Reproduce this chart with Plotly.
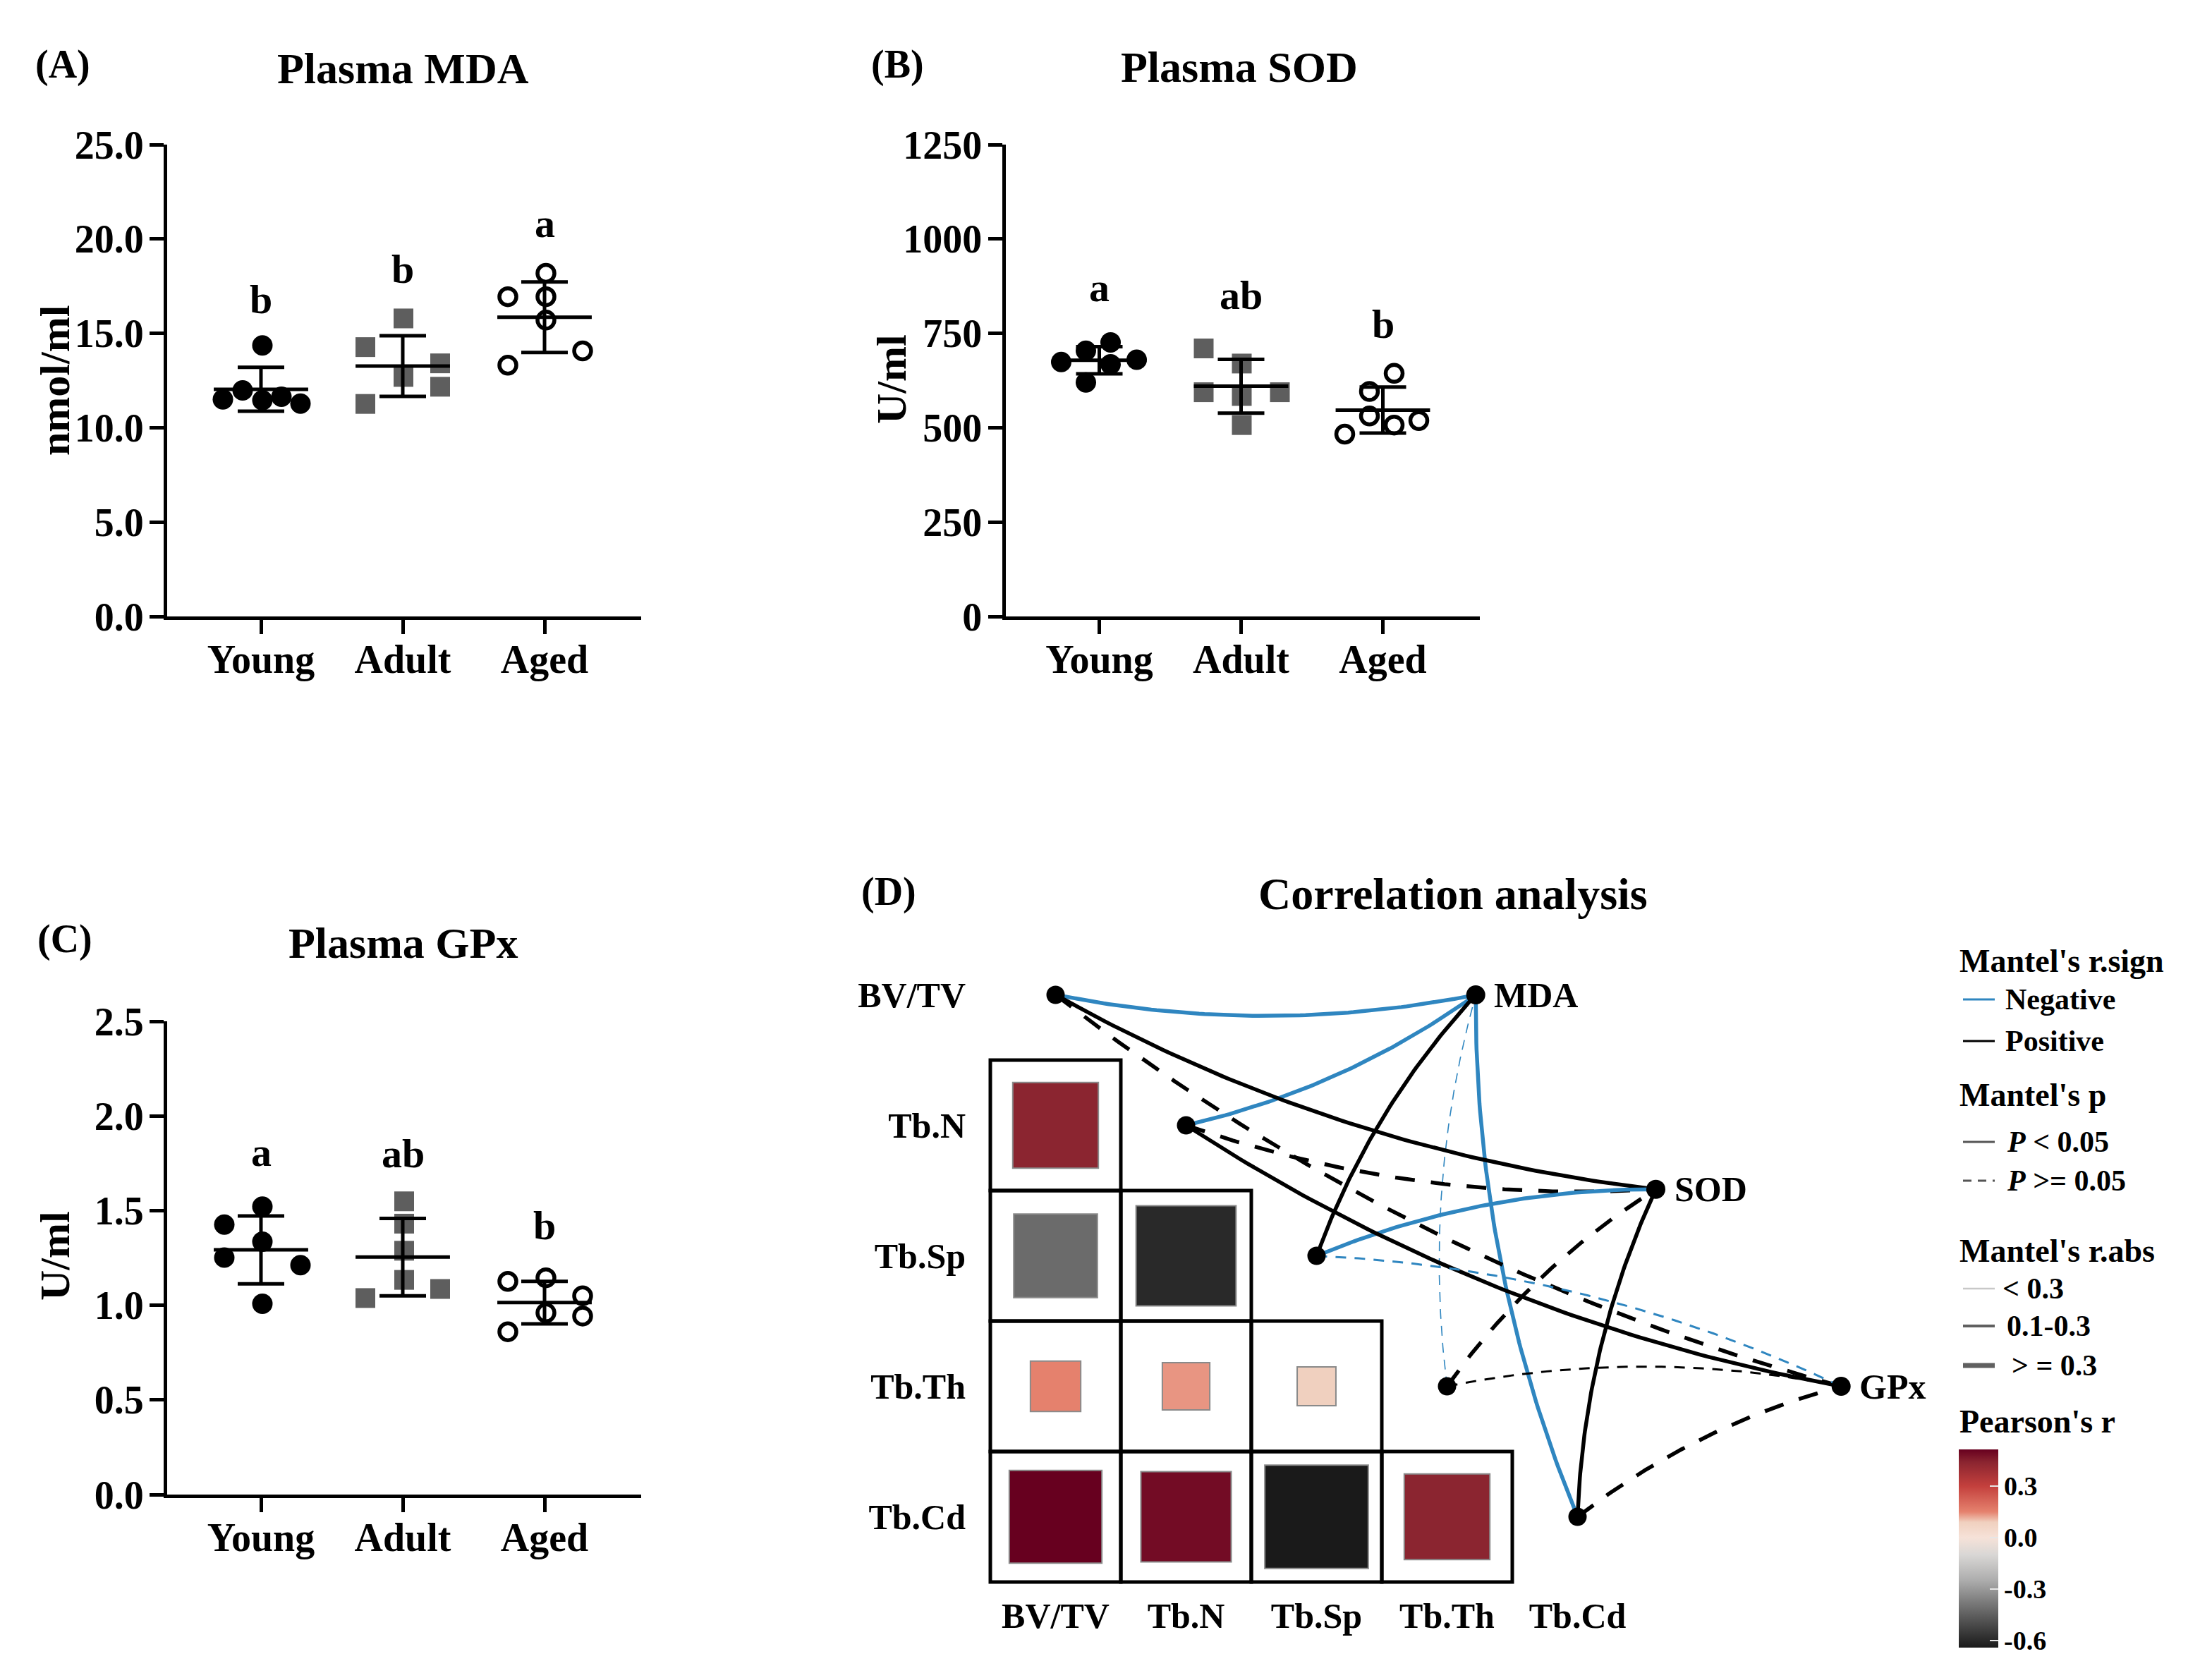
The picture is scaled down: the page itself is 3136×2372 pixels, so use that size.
import numpy as np
import plotly.graph_objects as go

W, H = 3136, 2372
FONT = "Liberation Serif"

# ---------------- data ----------------
groups = ["Young", "Adult", "Aged"]

mda_young = [11.50, 11.98, 14.36, 11.45, 11.64, 11.28]
mda_adult = [14.27, 15.79, 12.69, 13.41, 12.17, 11.26]
mda_aged = [16.94, 18.18, 16.94, 15.70, 13.31, 14.07]
mda_letters = ["b", "b", "a"]
mda_ticks = [0, 5, 10, 15, 20, 25]

sod_young = [674, 620, 726, 668, 680, 704]
sod_adult = [710, 670, 594, 584, 594, 507]
sod_aged = [483, 596, 531, 644, 507, 519]
sod_letters = ["a", "ab", "b"]
sod_ticks = [0, 250, 500, 750, 1000, 1250]

gpx_young = [1.426, 1.521, 1.336, 1.252, 1.212, 1.008]
gpx_adult = [1.549, 1.431, 1.288, 1.134, 1.038, 1.086]
gpx_aged = [1.126, 1.145, 1.050, 0.960, 0.943, 0.860]
gpx_letters = ["a", "ab", "b"]
gpx_ticks = [0, 0.5, 1.0, 1.5, 2.0, 2.5]

bone = ["BV/TV", "Tb.N", "Tb.Sp", "Tb.Th", "Tb.Cd"]
pearson_rows = ["Tb.N", "Tb.Sp", "Tb.Sp", "Tb.Th", "Tb.Th", "Tb.Th", "Tb.Cd", "Tb.Cd", "Tb.Cd", "Tb.Cd"]
pearson_cols = ["BV/TV", "BV/TV", "Tb.N", "BV/TV", "Tb.N", "Tb.Sp", "BV/TV", "Tb.N", "Tb.Sp", "Tb.Th"]
pearson_r = [0.44, -0.42, -0.60, 0.152, 0.135, 0.09, 0.515, 0.49, -0.643, 0.44]
cbar_ticks = [-0.6, -0.3, 0.0, 0.3]

env = ["MDA", "SOD", "GPx"]
mantel_env = ["MDA"] * 5 + ["SOD"] * 5 + ["GPx"] * 5
mantel_spec = bone * 3
mantel_r = [-0.35, -0.33, 0.34, -0.05, -0.36,
            0.38, 0.31, -0.35, 0.32, 0.36,
            0.33, 0.37, -0.15, 0.18, 0.34]
mantel_p = [0.01, 0.02, 0.03, 0.60, 0.01,
            0.01, 0.12, 0.02, 0.09, 0.02,
            0.08, 0.03, 0.25, 0.40, 0.07]

# ---------------- layout helpers (positions / styles) ----------------
def pxx(x):
    return x / W


def pxy(y):
    return 1 - y / H


CAT = 201.0  # px per category
jitter = {
    "A": [[-54, -26, 2, 2, 29, 56], [-53, 1, 1, 53, 53, -53], [-52, 2, 2, 2, -52, 54]],
    "B": [[-54, -19, 16, 16, 53, -19], [-53, 1, -53, 1, 55, 1], [-54, -19, -19, 16, 16, 51]],
    "C": [[-52, 2, 2, -52, 56, 2], [2, 2, 2, 2, -53, 53], [-52, 2, 54, 2, 54, -52]],
}
letter_y = {"A": [16.8, 18.4, 20.85], "B": [871, 852, 775], "C": [1.81, 1.80, 1.42]}

marker_styles = [
    dict(symbol="circle", size=29, color="black", line=dict(width=0), opacity=1),
    dict(symbol="square", size=28, color="#5E5E5E", line=dict(width=0), opacity=1),
    dict(symbol="circle", size=24, color="white", line=dict(color="black", width=5.5), opacity=1),
]

panels = [
    dict(tag="A", xa="x", ya="y", xdom=(237, 909), ydom=(205, 874), yr=(0, 25),
         ticks=mda_ticks, fmt=".1f", data=[mda_young, mda_adult, mda_aged], letters=mda_letters,
         title="Plasma MDA", title_xy=(571, 97), tag_xy=(89, 92), ytitle="nmol/ml", yt_xy=(78, 540)),
    dict(tag="B", xa="x2", ya="y2", xdom=(1425.5, 2098), ydom=(205, 874), yr=(0, 1250),
         ticks=sod_ticks, fmt="d", data=[sod_young, sod_adult, sod_aged], letters=sod_letters,
         title="Plasma SOD", title_xy=(1757, 95), tag_xy=(1272, 91), ytitle="U/ml", yt_xy=(1264, 538)),
    dict(tag="C", xa="x3", ya="y3", xdom=(237, 909), ydom=(1448, 2119), yr=(0, 2.5),
         ticks=gpx_ticks, fmt=".1f", data=[gpx_young, gpx_adult, gpx_aged], letters=gpx_letters,
         title="Plasma GPx", title_xy=(571, 1337), tag_xy=(92, 1331), ytitle="U/ml", yt_xy=(78, 1781)),
]

fig = go.Figure()
annotations = []
shapes = []


def ann(x, y, text, size, xref="paper", yref="paper", xanchor="center", **kw):
    d = dict(x=x, y=y, xref=xref, yref=yref, text=text, showarrow=False, xanchor=xanchor,
             yanchor="middle", font=dict(family=FONT, size=size, color="black"))
    d.update(kw)
    annotations.append(d)


axis_common = dict(showline=True, linewidth=5, linecolor="black", ticks="outside", ticklen=20,
                   tickwidth=5, tickcolor="black", showgrid=False, zeroline=False, fixedrange=True,
                   automargin=False,
                   tickfont=dict(family=FONT, size=56, color="black", weight="bold"))

layout_axes = {}
for p in panels:
    xa, ya = p["xa"], p["ya"]
    xkey = "xaxis" + xa[1:]
    ykey = "yaxis" + ya[1:]
    x0, x1 = p["xdom"]
    y0, y1 = p["ydom"]
    left = -133.0 / CAT
    right = left + (x1 - x0) / CAT
    layout_axes[xkey] = dict(axis_common, domain=[pxx(x0), pxx(x1)], range=[left, right],
                             tickvals=[0, 1, 2], ticktext=groups, anchor=ya, ticklabelstandoff=-12)
    layout_axes[ykey] = dict(axis_common, domain=[pxy(y1), pxy(y0)], range=list(p["yr"]),
                             tickvals=p["ticks"], tickformat=p["fmt"], anchor=xa,
                             ticklabelstandoff=-3)

    for gi, vals in enumerate(p["data"]):
        xs = [gi + j / CAT for j in jitter[p["tag"]][gi]]
        fig.add_trace(go.Scatter(x=xs, y=vals, mode="markers", marker=marker_styles[gi],
                                 xaxis=xa, yaxis=ya, showlegend=False, hoverinfo="skip",
                                 cliponaxis=False))
    for gi, vals in enumerate(p["data"]):
        m = float(np.mean(vals))
        sd = float(np.std(vals, ddof=1))
        fig.add_trace(go.Scatter(x=[gi - 0.333, gi + 0.333], y=[m, m], mode="lines",
                                 line=dict(color="black", width=5), xaxis=xa, yaxis=ya,
                                 showlegend=False, hoverinfo="skip", cliponaxis=False))
        fig.add_trace(go.Scatter(x=[gi], y=[m], mode="markers",
                                 marker=dict(size=1, color="rgba(0,0,0,0)"),
                                 error_y=dict(type="data", array=[sd], visible=True, thickness=5,
                                              width=33, color="black"),
                                 xaxis=xa, yaxis=ya, showlegend=False, hoverinfo="skip",
                                 cliponaxis=False))
        ann(gi, letter_y[p["tag"]][gi], "<b>%s</b>" % p["letters"][gi], 58, xref=xa, yref=ya)
    ann(pxx(p["title_xy"][0]), pxy(p["title_xy"][1]), "<b>%s</b>" % p["title"], 62)
    ann(pxx(p["tag_xy"][0]), pxy(p["tag_xy"][1]), "<b>(%s)</b>" % p["tag"], 56)
    ann(pxx(p["yt_xy"][0]), pxy(p["yt_xy"][1]), "<b>%s</b>" % p["ytitle"], 60, textangle=-90)

# ---------------- panel D ----------------
CELL = 185.0
ORIGX, ORIGY = 1496.5, 1410.5  # pixel centre of cell (0,0)
dx0, dx1 = 1380, 2760
dy0, dy1 = 1330, 2265
layout_axes["xaxis4"] = dict(domain=[pxx(dx0), pxx(dx1)],
                             range=[(dx0 - ORIGX) / CELL, (dx1 - ORIGX) / CELL],
                             showgrid=False, zeroline=False, showline=False, ticks="",
                             tickvals=list(range(len(bone))), ticktext=bone, anchor="y4",
                             fixedrange=True, ticklabelstandoff=-8, automargin=False,
                             tickfont=dict(family=FONT, size=50, color="black", weight="bold"))
layout_axes["yaxis4"] = dict(domain=[pxy(dy1), pxy(dy0)],
                             range=[(dy1 - ORIGY) / CELL, (dy0 - ORIGY) / CELL],
                             showgrid=False, zeroline=False, showline=False, ticks="",
                             tickvals=list(range(len(bone))), ticktext=bone, anchor="x4",
                             fixedrange=True, ticklabelstandoff=10, automargin=False,
                             tickfont=dict(family=FONT, size=50, color="black", weight="bold"))

# cell outlines (lower triangle)
for i in range(len(bone)):
    for j in range(i):
        shapes.append(dict(type="rect", xref="x4", yref="y4", x0=j - 0.5, x1=j + 0.5,
                           y0=i - 0.5, y1=i + 0.5, line=dict(color="black", width=5),
                           fillcolor="rgba(0,0,0,0)", layer="below"))

rmin, rmax = min(pearson_r), max(pearson_r)
stops = [(-0.643, "#1A1A1A"), (-0.50, "#4D4D4D"), (-0.38, "#7A7A7A"), (-0.25, "#ADADAD"),
         (-0.10, "#D9D7D5"), (0.00, "#F6E2D8"), (0.09, "#F0D0BF"), (0.15, "#E5826E"),
         (0.30, "#C4403D"), (0.44, "#8B2530"), (0.515, "#67001F")]
cscale = [[min(max((v - rmin) / (rmax - rmin), 0), 1), c] for v, c in stops]
cscale[0][0] = 0.0
cscale[-1][0] = 1.0

fig.add_trace(go.Scatter(
    x=[bone.index(c) for c in pearson_cols], y=[bone.index(r) for r in pearson_rows],
    mode="markers", xaxis="x4", yaxis="y4", showlegend=False, hoverinfo="skip",
    marker=dict(symbol="square", size=[183 * np.sqrt(abs(r)) for r in pearson_r], opacity=1,
                color=pearson_r, colorscale=cscale, cmin=rmin, cmax=rmax,
                line=dict(color="#8A8A8A", width=2),
                colorbar=dict(x=pxx(2777), xanchor="left", y=pxy(2195.5), yanchor="middle",
                              thickness=56, thicknessmode="pixels", len=281, lenmode="pixels",
                              tickvals=cbar_ticks, ticktext=["%.1f" % t for t in cbar_ticks],
                              ticks="inside", ticklen=12, tickwidth=2, tickcolor="#E6E6E6",
                              outlinewidth=0, xpad=0, ypad=0,
                              tickfont=dict(family=FONT, size=38, color="black", weight="bold")))))

env_pos = {"MDA": (3.22, 0.0), "SOD": (4.60, 1.49), "GPx": (6.02, 3.0)}
BLUE = "#2F86C0"


def curve(p0, p1, sgn, c=0.1, n=80):
    (x0, y0), (x1, y1) = p0, p1
    ddx, ddy = x1 - x0, y1 - y0
    cx = (x0 + x1) / 2 + sgn * c * (-ddy)
    cy = (y0 + y1) / 2 + sgn * c * ddx
    t = np.linspace(0, 1, n)
    xs = (1 - t) ** 2 * x0 + 2 * (1 - t) * t * cx + t ** 2 * x1
    ys = (1 - t) ** 2 * y0 + 2 * (1 - t) * t * cy + t ** 2 * y1
    return xs, ys


for k in range(len(mantel_r)):
    s = bone.index(mantel_spec[k])
    p0 = (s, s)
    p1 = env_pos[mantel_env[k]]
    sgn = 1 if s < 2 else -1
    xs, ys = curve(p0, p1, sgn)
    ra = abs(mantel_r[k])
    w = 5.5 if ra >= 0.3 else (3 if ra >= 0.1 else 1.6)
    col = BLUE if mantel_r[k] < 0 else "black"
    if mantel_p[k] < 0.05:
        dash = "solid"
    else:
        dash = "%dpx,%dpx" % (max(5.2 * w, 14), max(4.2 * w, 10))
    fig.add_trace(go.Scatter(x=xs, y=ys, mode="lines", line=dict(color=col, width=w, dash=dash),
                             xaxis="x4", yaxis="y4", showlegend=False, hoverinfo="skip",
                             cliponaxis=False))

fig.add_trace(go.Scatter(x=list(range(len(bone))), y=list(range(len(bone))), mode="markers",
                         marker=dict(size=26, color="black"), xaxis="x4", yaxis="y4",
                         showlegend=False, hoverinfo="skip", cliponaxis=False))
fig.add_trace(go.Scatter(x=[env_pos[e][0] for e in env], y=[env_pos[e][1] for e in env],
                         mode="markers", marker=dict(size=27, color="black"), xaxis="x4",
                         yaxis="y4", showlegend=False, hoverinfo="skip", cliponaxis=False))
for e in env:
    ann(env_pos[e][0], env_pos[e][1], "<b>%s</b>" % e, 50, xref="x4", yref="y4",
        xanchor="left", xshift=24)

ann(pxx(2060), pxy(1268), "<b>Correlation analysis</b>", 64)
ann(pxx(1260), pxy(1264), "<b>(D)</b>", 56)

# ---------------- manual legend ----------------
LX0, LX1 = 2783, 2828
leg_titles = [("Mantel's r.sign", 1362), ("Mantel's p", 1552), ("Mantel's r.abs", 1773),
              ("Pearson's r", 2015)]
for t, y in leg_titles:
    ann(pxx(2776), pxy(y), "<b>%s</b>" % t, 46, xanchor="left")
leg_items = [
    ("Negative", 1417, BLUE, 3, "solid", 2841),
    ("Positive", 1476, "black", 3, "solid", 2841),
    ("<i>P</i> &lt; 0.05", 1619, "#555555", 3, "solid", 2843),
    ("<i>P</i> &gt;= 0.05", 1674, "#555555", 3, "12px,9px", 2843),
    ("&lt; 0.3", 1827, "#C8C8C8", 2.5, "solid", 2837),
    ("0.1-0.3", 1880, "#606060", 4, "solid", 2843),
    ("&gt; = 0.3", 1936, "#606060", 7, "solid", 2850),
]
for txt, y, col, w, dash, tx in leg_items:
    shapes.append(dict(type="line", xref="paper", yref="paper", x0=pxx(LX0), x1=pxx(LX1),
                       y0=pxy(y), y1=pxy(y), line=dict(color=col, width=w, dash=dash)))
    ann(pxx(tx), pxy(y), "<b>%s</b>" % txt, 42, xanchor="left")

fig.update_layout(width=W, height=H,
                  margin=dict(l=0, r=0, t=0, b=0, pad=0, autoexpand=False),
                  paper_bgcolor="white", plot_bgcolor="white", showlegend=False,
                  annotations=annotations, shapes=shapes,
                  font=dict(family=FONT, color="black"), **layout_axes)

fig.write_html("out.html", config={"displayModeBar": False},
               post_script="document.body.style.margin='0px';")
